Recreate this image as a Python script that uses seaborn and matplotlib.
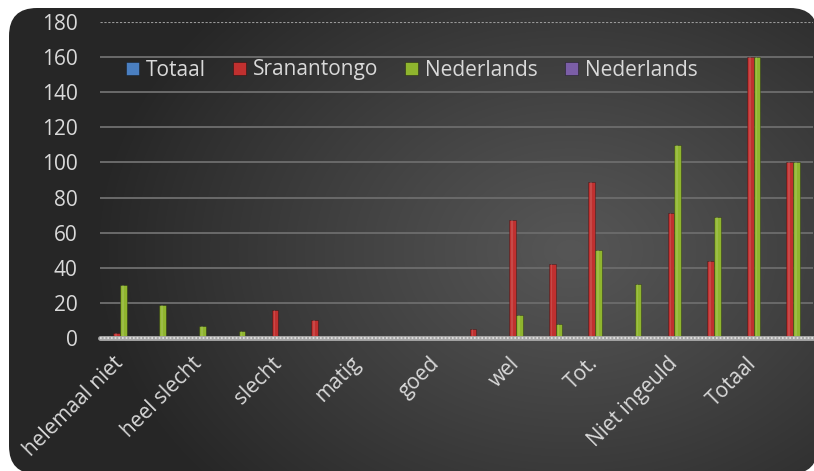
import numpy as np
import pandas as pd
import matplotlib
matplotlib.use("Agg")
import matplotlib.pyplot as plt
import seaborn as sns
from matplotlib.patches import FancyBboxPatch, Patch

# ---- data -------------------------------------------------------------
tick_labels = ["helemaal niet", "heel slecht", "slecht", "matig", "goed",
               "wel", "Tot.", "Niet ingeuld", "Totaal"]
n_groups = 18
series = ["Totaal", "Sranantongo", "Nederlands", "Nederlands "]
totaal = [0] * 18
sranantongo = [3, 0, 0, 0, 16, 10, 1, 0, 0, 5, 67, 42, 89, 0, 71, 44, 160, 100]
nederlands = [30, 19, 7, 4, 0, 0, 0, 0, 0, 0, 13, 8, 50, 31, 110, 69, 160, 100]
nederlands2 = [0] * 18
colors = ["#4a7fc1", "#c0302f", "#8fb52e", "#7b5ea7"]

groups = [f"g{i:02d}" for i in range(n_groups)]
df = pd.DataFrame({
    "groep": groups * 4,
    "reeks": sum([[s] * n_groups for s in series], []),
    "waarde": totaal + sranantongo + nederlands + nederlands2,
})

# ---- figure & background ----------------------------------------------
W, H = 814, 471
sns.set_theme(style="dark")
plt.rcParams["font.family"] = ["Open Sans", "DejaVu Sans"]
txt = "#d9d9d9"

fig = plt.figure(figsize=(W / 100, H / 100), dpi=100)
fig.patch.set_facecolor("white")

bg = fig.add_axes([0, 0, 1, 1], zorder=0)
bg.set_xlim(0, W)
bg.set_ylim(H, 0)
bg.axis("off")
yy, xx = np.mgrid[0:H, 0:W]
d = np.sqrt(((xx - 570) / 480.0) ** 2 + ((yy - 250) / 360.0) ** 2)
t = np.clip(d, 0, 1) ** 1.1
c0 = np.array([0x56, 0x56, 0x56]) / 255
c1 = np.array([0x26, 0x26, 0x26]) / 255
img = c0[None, None, :] * (1 - t[..., None]) + c1[None, None, :] * t[..., None]
im = bg.imshow(img, extent=(0, W, H, 0), aspect="auto", interpolation="bilinear")
frame = FancyBboxPatch((9, 8), 809, 466, boxstyle="round,pad=0,rounding_size=28",
                       transform=bg.transData, facecolor="none", edgecolor="none")
bg.add_patch(frame)
im.set_clip_path(frame)

# ---- bars -------------------------------------------------------------
ax = fig.add_axes([100 / W, 1 - 338 / H, 713 / W, 316 / H], zorder=1)
ax.set_facecolor("none")
sns.barplot(data=df, x="groep", y="waarde", hue="reeks", palette=colors,
            width=0.68, saturation=1, ax=ax, legend=False,
            edgecolor="#00000055", linewidth=0.6)

# light highlight stripe on each bar for a rounded look
for p in ax.patches:
    h = p.get_height()
    if h > 0:
        ax.add_patch(plt.Rectangle((p.get_x() + p.get_width() * 0.3, 0),
                                   p.get_width() * 0.25, h,
                                   facecolor="white", alpha=0.12, lw=0, zorder=3))

ax.set_ylim(0, 180)
ax.set_xlim(-0.5, n_groups - 0.5)
ax.set_yticks(range(0, 181, 20))
ax.set_yticklabels([str(v) for v in range(0, 181, 20)], color=txt, fontsize=15)
ax.set_xticks(range(0, n_groups, 2))
ax.set_xticklabels(tick_labels, color=txt, fontsize=15, rotation=45,
                   ha="right", va="center", rotation_mode="anchor")
ax.tick_params(axis="y", length=0, pad=16)
ax.tick_params(axis="x", length=0, pad=16)
ax.set_xlabel("")
ax.set_ylabel("")
for s in ax.spines.values():
    s.set_visible(False)

ax.grid(False)
for v in range(20, 180, 20):
    ax.axhline(v, color="#6a6a6a", lw=1.4, zorder=0.5)
ax.axhline(180, color="#9a9a9a", lw=0.8, ls=(0, (2, 1.5)), zorder=0.5)
ax.axhline(0, color="#a8a8a8", lw=3.5, zorder=5, clip_on=False)
ax.axhline(0, color="#e6e6e6", lw=1.2, ls=(0, (1, 1.2)), zorder=6, clip_on=False)

# ---- legend -----------------------------------------------------------
handles = [Patch(facecolor=c, edgecolor="#00000066", lw=0.6) for c in colors]
fig.legend(handles, ["Totaal", "Sranantongo", "Nederlands", "Nederlands"],
           loc="center left", bbox_to_anchor=(118 / W, 1 - 70 / H),
           ncol=4, frameon=False, fontsize=15, labelcolor=txt,
           handlelength=0.6, handleheight=0.6, handletextpad=0.35,
           columnspacing=1.3, borderaxespad=0)

fig.savefig("out.png", dpi=100, facecolor=fig.get_facecolor())
